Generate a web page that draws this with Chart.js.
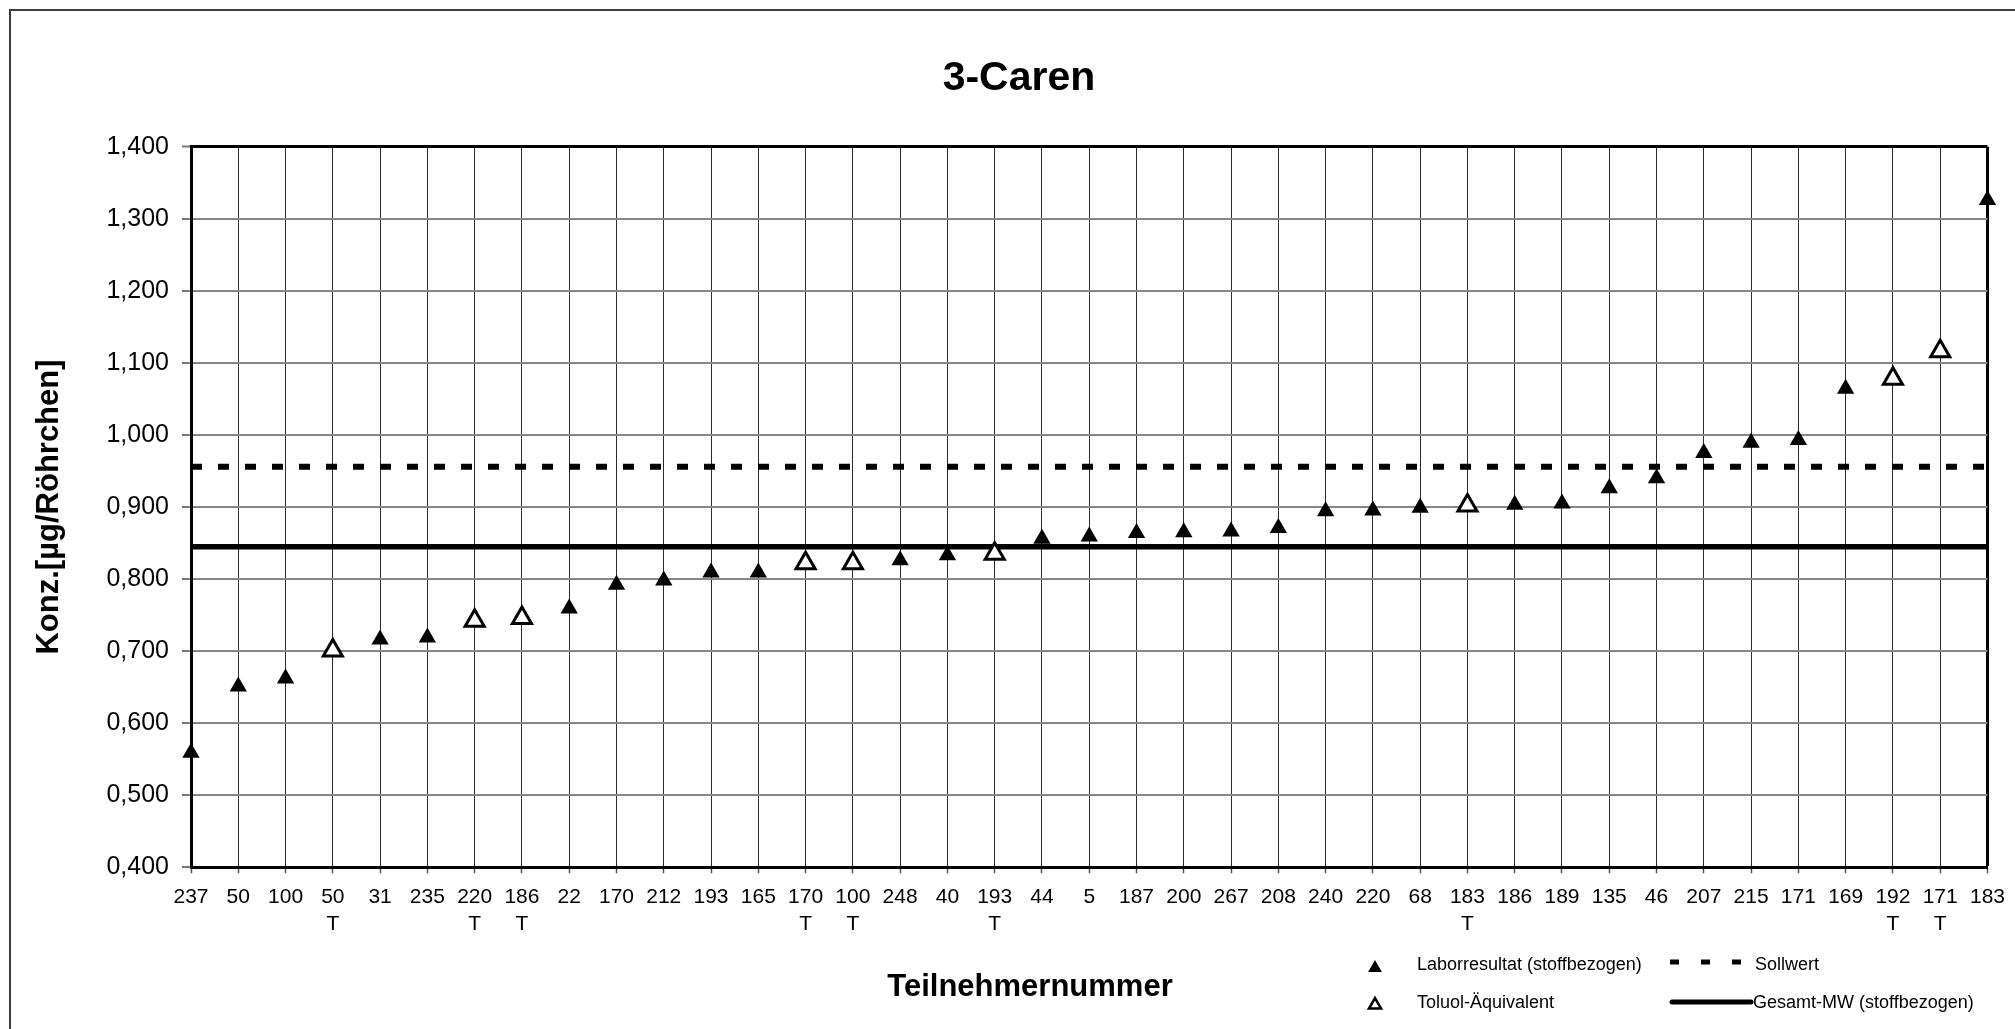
<!DOCTYPE html>
<html>
<head>
<meta charset="utf-8">
<script src="https://cdn.jsdelivr.net/npm/chart.js@4/dist/chart.umd.min.js"></script>
<style>
html,body{margin:0;padding:0;background:#fff;overflow:hidden}
#wrap{position:relative;width:2015px;height:1029px}
</style>
</head>
<body>
<div id="wrap"><canvas id="c" width="2015" height="1029"></canvas></div>
<script>
const chartTitle = '3-Caren';
const xAxisTitle = 'Teilnehmernummer';
const yAxisTitle = 'Konz.[µg/Röhrchen]';
const legendLabor = 'Laborresultat (stoffbezogen)';
const legendToluol = 'Toluol-Äquivalent';
const legendSoll = 'Sollwert';
const legendMW = 'Gesamt-MW (stoffbezogen)';

const participants = ['237','50','100','50','31','235','220','186','22','170','212','193','165','170','100','248','40','193','44','5','187','200','267','208','240','220','68','183','186','189','135','46','207','215','171','169','192','171','183'];
const toluolFlags = ['','','','T','','','T','T','','','','','','T','T','','','T','','','','','','','','','','T','','','','','','','','','T','T',''];

const laborValues = [0.559,0.651,0.662,null,0.716,0.719,null,null,0.759,0.792,0.798,0.809,0.809,null,null,0.826,0.833,null,0.856,0.859,0.864,0.865,0.866,0.871,0.894,0.895,0.899,null,0.903,0.905,0.926,0.940,0.975,0.989,0.993,1.064,null,null,1.326];
const toluolValues = [null,null,null,0.701,null,null,0.742,0.746,null,null,null,null,null,0.822,0.822,null,null,0.835,null,null,null,null,null,null,null,null,null,0.902,null,null,null,null,null,null,null,null,1.078,1.116,null];

const sollwert = 0.956;
const gesamtMW = 0.845;

const yMin = 0.4, yMax = 1.4, yStep = 0.1;

const FONT = "'Liberation Sans', Arial, sans-serif";
Chart.defaults.font.family = FONT;
Chart.defaults.color = '#000';

const labels = participants.map((p, i) => [p, toluolFlags[i]]);

const decorPlugin = {
  id: 'decor',
  afterDraw(chart) {
    const ctx = chart.ctx;
    ctx.save();
    // outer frame
    ctx.strokeStyle = '#3c3c3c';
    ctx.lineWidth = 2;
    ctx.strokeRect(10, 10, 2100, 1100);
    ctx.fillStyle = '#000';
    // title
    ctx.textAlign = 'center';
    ctx.textBaseline = 'middle';
    ctx.font = "bold 41px " + FONT;
    ctx.fillText(chartTitle, 1019, 79);
    // x title
    ctx.font = "bold 31px " + FONT;
    ctx.fillText(xAxisTitle, 1030, 987);
    // y title
    ctx.save();
    ctx.translate(49, 507);
    ctx.rotate(-Math.PI / 2);
    ctx.fillText(yAxisTitle, 0, 0);
    ctx.restore();

    // legend
    const tri = (x, y, r, filled) => {
      ctx.beginPath();
      ctx.moveTo(x, y - r);
      ctx.lineTo(x + r * 0.866, y + r * 0.5);
      ctx.lineTo(x - r * 0.866, y + r * 0.5);
      ctx.closePath();
      if (filled) { ctx.fillStyle = '#000'; ctx.fill(); }
      else { ctx.fillStyle = '#fff'; ctx.fill(); ctx.lineWidth = 2.5; ctx.strokeStyle = '#000'; ctx.stroke(); }
    };
    tri(1375, 968, 8, true);
    tri(1375, 1005, 7, false);
    ctx.fillStyle = '#000';
    ctx.textAlign = 'left';
    ctx.font = "18px " + FONT;
    ctx.fillText(legendLabor, 1417, 965);
    ctx.fillText(legendToluol, 1417, 1003);
    ctx.fillText(legendSoll, 1755, 965);
    ctx.fillText(legendMW, 1753, 1003);
    // dashed sample
    ctx.strokeStyle = '#000';
    ctx.lineWidth = 5;
    ctx.setLineDash([9, 22]);
    ctx.beginPath();
    ctx.moveTo(1670, 962);
    ctx.lineTo(1741, 962);
    ctx.stroke();
    ctx.setLineDash([]);
    ctx.lineCap = 'round';
    ctx.beginPath();
    ctx.moveTo(1672, 1002);
    ctx.lineTo(1751, 1002);
    ctx.stroke();
    ctx.restore();
  }
};

const lastIdx = participants.length - 1;

new Chart(document.getElementById('c'), {
  type: 'line',
  data: {
    labels: labels,
    datasets: [
      {
        label: legendLabor,
        data: laborValues,
        showLine: false,
        pointStyle: 'triangle',
        pointRadius: 10,
        pointHoverRadius: 10,
        pointBackgroundColor: '#000',
        pointBorderColor: '#000',
        pointBorderWidth: 0,
        clip: false,
        order: 0
      },
      {
        label: legendToluol,
        data: toluolValues,
        showLine: false,
        pointStyle: 'triangle',
        pointRadius: 11,
        pointHoverRadius: 11,
        pointBackgroundColor: '#fff',
        pointBorderColor: '#000',
        pointBorderWidth: 3,
        clip: false,
        order: 1
      },
      {
        label: legendSoll,
        data: participants.map(() => sollwert),
        borderColor: '#000',
        borderWidth: 6,
        borderDash: [11, 16],
        pointRadius: 0,
        fill: false,
        order: 2
      },
      {
        label: legendMW,
        data: participants.map(() => gesamtMW),
        borderColor: '#000',
        borderWidth: 5.5,
        pointRadius: 0,
        fill: false,
        order: 3
      }
    ]
  },
  options: {
    responsive: false,
    devicePixelRatio: 1,
    animation: false,
    events: [],
    layout: { padding: { left: 0, top: 146.7, right: 24, bottom: 0 } },
    plugins: {
      legend: { display: false },
      title: { display: false },
      tooltip: { enabled: false }
    },
    scales: {
      x: {
        type: 'category',
        offset: false,
        afterFit: (s) => { s.height = 1029 - 867.3; },
        grid: {
          color: (c) => (c.index === lastIdx ? '#000' : '#2a2a2a'),
          lineWidth: (c) => (c.index === lastIdx ? 3 : 1),
          tickColor: '#555',
          tickLength: 6,
          tickWidth: 1.5
        },
        border: { color: '#000', width: 3 },
        ticks: {
          autoSkip: false,
          maxRotation: 0,
          minRotation: 0,
          padding: 10,
          font: { size: 21, lineHeight: 1.3 },
          color: '#000'
        }
      },
      y: {
        min: yMin,
        max: yMax,
        afterFit: (s) => { s.width = 191; },
        grid: {
          color: (c) => (c.tick && c.tick.value > yMax - 1e-6 ? '#000' : '#868686'),
          lineWidth: (c) => (c.tick && c.tick.value > yMax - 1e-6 ? 3 : 2),
          tickColor: '#777',
          tickLength: 9,
          tickWidth: 2
        },
        border: { color: '#000', width: 3 },
        ticks: {
          stepSize: yStep,
          padding: 13,
          font: { size: 25 },
          color: '#000',
          callback: (v) => Number(v).toFixed(3).replace('.', ',')
        }
      }
    }
  },
  plugins: [decorPlugin]
});
</script>
</body>
</html>
